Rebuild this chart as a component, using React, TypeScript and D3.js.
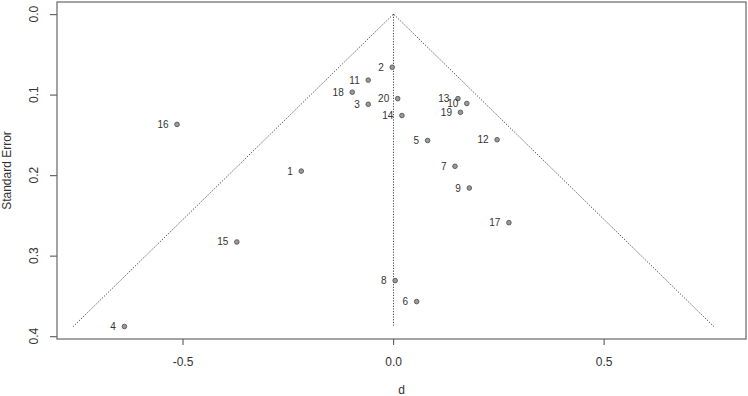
import { useRef, useEffect } from 'react'
import * as d3 from 'd3'

// study labels, effect sizes (d) and standard errors
const studyIds = ['1', '2', '3', '4', '5', '6', '7', '8', '9', '10', '11', '12', '13', '14', '15', '16', '17', '18', '19', '20']
const effectSizes = [-0.218, -0.002, -0.059, -0.638, 0.082, 0.056, 0.147, 0.005, 0.181, 0.175, -0.059, 0.247, 0.154, 0.021, -0.371, -0.513, 0.275, -0.097, 0.16, 0.011]
const standardErrors = [0.195, 0.066, 0.112, 0.388, 0.157, 0.357, 0.189, 0.331, 0.216, 0.111, 0.082, 0.156, 0.105, 0.126, 0.283, 0.137, 0.259, 0.097, 0.122, 0.105]

const pooledEstimate = 0.001
const xTicks = [-0.5, 0, 0.5]
const yTicks = [0, 0.1, 0.2, 0.3, 0.4]
const xDomain = [-0.798, 0.838]
const yDomain = [-0.015, 0.4035]

export default function App() {
  const containerRef = useRef<HTMLDivElement>(null)

  useEffect(() => {
    if (!containerRef.current) return
    d3.select(containerRef.current).selectAll('*').remove()

    const width = 748
    const height = 396
    const margin = { top: 2, right: 2, bottom: 57, left: 57 }
    const font = 'Liberation Sans, Arial, sans-serif'
    const ink = '#333'

    const svg = d3
      .select(containerRef.current)
      .append('svg')
      .attr('width', width)
      .attr('height', height)
      .style('position', 'absolute')
      .style('left', '0px')
      .style('top', '0px')
      .style('background', '#fff')

    const x = d3.scaleLinear().domain(xDomain).range([margin.left, width - margin.right])
    const y = d3.scaleLinear().domain(yDomain).range([margin.top, height - margin.bottom])

    // funnel (pseudo confidence region) and center line
    const seMax = d3.max(standardErrors)!
    const funnel = d3.line<[number, number]>().x((p) => x(p[0])).y((p) => y(p[1]))
    svg
      .append('path')
      .attr('d', funnel([
        [pooledEstimate - 1.96 * seMax, seMax],
        [pooledEstimate, 0],
        [pooledEstimate + 1.96 * seMax, seMax],
      ]))
      .attr('fill', 'none')
      .attr('stroke', '#444')
      .attr('stroke-width', 1)
      .attr('stroke-dasharray', '1.2,1.5')

    svg
      .append('line')
      .attr('x1', x(pooledEstimate))
      .attr('x2', x(pooledEstimate))
      .attr('y1', y(0))
      .attr('y2', y(seMax))
      .attr('stroke', '#444')
      .attr('stroke-width', 1)
      .attr('stroke-dasharray', '1.2,1.5')

    // box
    svg
      .append('rect')
      .attr('x', margin.left)
      .attr('y', margin.top)
      .attr('width', width - margin.left - margin.right)
      .attr('height', height - margin.top - margin.bottom)
      .attr('fill', 'none')
      .attr('stroke', '#666')
      .attr('stroke-width', 1.2)

    // x axis
    const xAxis = svg
      .append('g')
      .attr('transform', `translate(0,${height - margin.bottom})`)
      .call(d3.axisBottom(x).tickValues(xTicks).tickSize(6).tickSizeOuter(0).tickFormat((d) => (+d).toFixed(1)))
    xAxis.select('.domain').remove()
    xAxis.selectAll('line').attr('stroke', '#666').attr('stroke-width', 1.2)
    xAxis
      .selectAll('text')
      .attr('font-family', font)
      .attr('font-size', '12px')
      .attr('fill', ink)
      .attr('dy', null)
      .attr('y', 27)

    // y axis (labels rotated, as R does)
    const yAxis = svg
      .append('g')
      .attr('transform', `translate(${margin.left},0)`)
      .call(d3.axisLeft(y).tickValues(yTicks).tickSize(7).tickSizeOuter(0).tickFormat(() => ''))
    yAxis.select('.domain').remove()
    yAxis.selectAll('line').attr('stroke', '#666').attr('stroke-width', 1.2)

    svg
      .append('g')
      .selectAll('text')
      .data(yTicks)
      .join('text')
      .attr('transform', (d) => `translate(38,${y(d)}) rotate(-90)`)
      .attr('text-anchor', 'middle')
      .attr('font-family', font)
      .attr('font-size', '12px')
      .attr('fill', ink)
      .text((d) => d.toFixed(1))

    // axis titles
    svg
      .append('text')
      .attr('x', (margin.left + width - margin.right) / 2)
      .attr('y', 394)
      .attr('text-anchor', 'middle')
      .attr('font-family', font)
      .attr('font-size', '12px')
      .attr('fill', ink)
      .text('d')

    svg
      .append('text')
      .attr('transform', `translate(11,${(margin.top + height - margin.bottom) / 2}) rotate(-90)`)
      .attr('text-anchor', 'middle')
      .attr('font-family', font)
      .attr('font-size', '12px')
      .attr('fill', ink)
      .text('Standard Error')

    // studies
    const studies = studyIds.map((id, i) => ({ id, d: effectSizes[i], se: standardErrors[i] }))

    svg
      .append('g')
      .selectAll('circle')
      .data(studies)
      .join('circle')
      .attr('cx', (s) => x(s.d))
      .attr('cy', (s) => y(s.se))
      .attr('r', 2.3)
      .attr('fill', '#999')
      .attr('stroke', '#555')
      .attr('stroke-width', 0.9)

    svg
      .append('g')
      .selectAll('text')
      .data(studies)
      .join('text')
      .attr('x', (s) => x(s.d) - 8.5)
      .attr('y', (s) => y(s.se))
      .attr('dy', '0.35em')
      .attr('text-anchor', 'end')
      .attr('font-family', font)
      .attr('font-size', '10px')
      .attr('fill', ink)
      .text((s) => s.id)
  }, [])

  return <div ref={containerRef} />
}
